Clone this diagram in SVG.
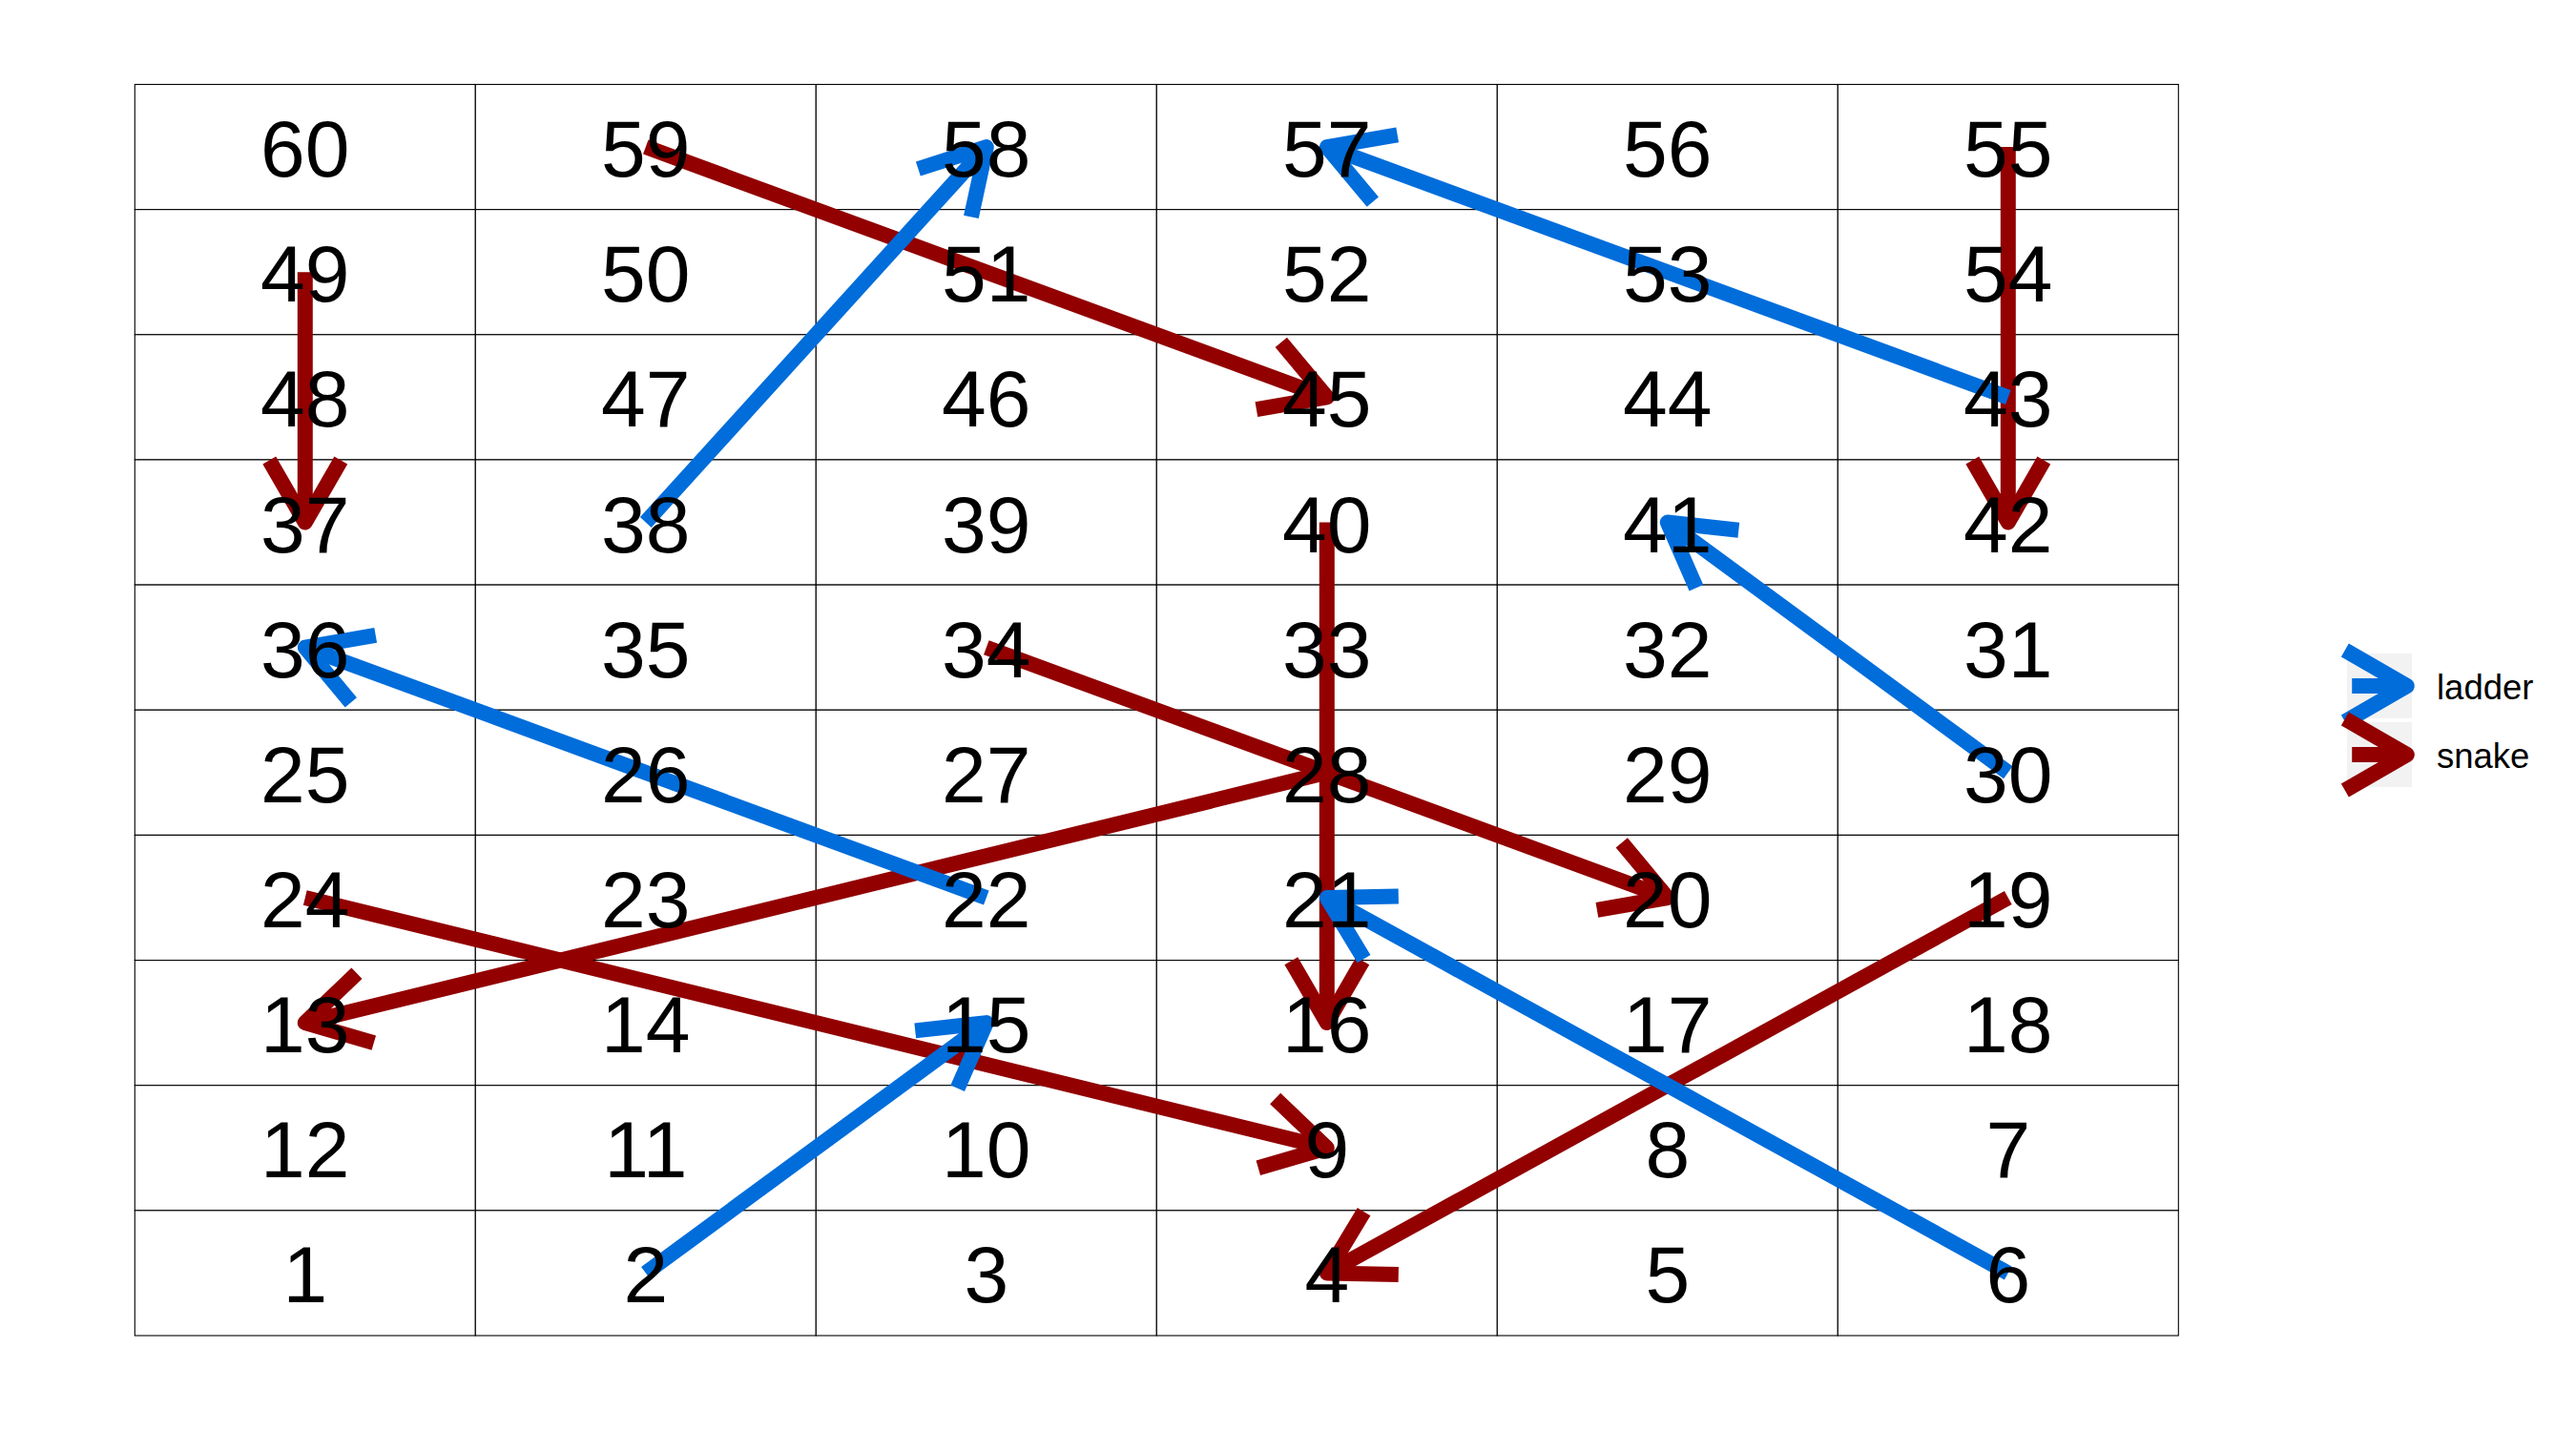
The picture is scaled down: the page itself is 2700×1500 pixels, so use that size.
<svg xmlns="http://www.w3.org/2000/svg" width="2700" height="1500" viewBox="0 0 2700 1500">
<style>
.cell{fill:#FFFFFF;stroke:#000000;stroke-width:1.1}
.num{font-family:"Liberation Sans",Arial,sans-serif;font-size:84px;fill:#000000;text-anchor:middle}
.lbl{font-family:"Liberation Sans",Arial,sans-serif;font-size:36.5px;fill:#000000}
.ladder{stroke:#006DDB;stroke-width:16;stroke-linecap:butt;fill:none;marker-end:url(#head-ladder)}
.snake{stroke:#920000;stroke-width:16;stroke-linecap:butt;fill:none;marker-end:url(#head-snake)}
.key{fill:#F2F2F2;stroke:#FFFFFF;stroke-width:4}
</style>
<defs>
<marker id="head-ladder" markerUnits="userSpaceOnUse" orient="auto" refX="0" refY="0" markerWidth="200" markerHeight="200" viewBox="-100 -100 200 200" style="overflow:visible">
<path d="M-64.95,-37.5 L0,0 L-64.95,37.5" fill="none" stroke="#006DDB" stroke-width="16" stroke-linejoin="round" stroke-linecap="butt"/>
</marker>
<marker id="head-snake" markerUnits="userSpaceOnUse" orient="auto" refX="0" refY="0" markerWidth="200" markerHeight="200" viewBox="-100 -100 200 200" style="overflow:visible">
<path d="M-64.95,-37.5 L0,0 L-64.95,37.5" fill="none" stroke="#920000" stroke-width="16" stroke-linejoin="round" stroke-linecap="butt"/>
</marker>
</defs>
<rect x="0" y="0" width="2700" height="1500" fill="#FFFFFF"/>
<g id="grid">
<rect class="cell" x="141.3" y="88.5" width="357" height="131.15"/><rect class="cell" x="498.3" y="88.5" width="357" height="131.15"/><rect class="cell" x="855.3" y="88.5" width="357" height="131.15"/><rect class="cell" x="1212.3" y="88.5" width="357" height="131.15"/><rect class="cell" x="1569.3" y="88.5" width="357" height="131.15"/><rect class="cell" x="1926.3" y="88.5" width="357" height="131.15"/>
<rect class="cell" x="141.3" y="219.65" width="357" height="131.15"/><rect class="cell" x="498.3" y="219.65" width="357" height="131.15"/><rect class="cell" x="855.3" y="219.65" width="357" height="131.15"/><rect class="cell" x="1212.3" y="219.65" width="357" height="131.15"/><rect class="cell" x="1569.3" y="219.65" width="357" height="131.15"/><rect class="cell" x="1926.3" y="219.65" width="357" height="131.15"/>
<rect class="cell" x="141.3" y="350.8" width="357" height="131.15"/><rect class="cell" x="498.3" y="350.8" width="357" height="131.15"/><rect class="cell" x="855.3" y="350.8" width="357" height="131.15"/><rect class="cell" x="1212.3" y="350.8" width="357" height="131.15"/><rect class="cell" x="1569.3" y="350.8" width="357" height="131.15"/><rect class="cell" x="1926.3" y="350.8" width="357" height="131.15"/>
<rect class="cell" x="141.3" y="481.95" width="357" height="131.15"/><rect class="cell" x="498.3" y="481.95" width="357" height="131.15"/><rect class="cell" x="855.3" y="481.95" width="357" height="131.15"/><rect class="cell" x="1212.3" y="481.95" width="357" height="131.15"/><rect class="cell" x="1569.3" y="481.95" width="357" height="131.15"/><rect class="cell" x="1926.3" y="481.95" width="357" height="131.15"/>
<rect class="cell" x="141.3" y="613.1" width="357" height="131.15"/><rect class="cell" x="498.3" y="613.1" width="357" height="131.15"/><rect class="cell" x="855.3" y="613.1" width="357" height="131.15"/><rect class="cell" x="1212.3" y="613.1" width="357" height="131.15"/><rect class="cell" x="1569.3" y="613.1" width="357" height="131.15"/><rect class="cell" x="1926.3" y="613.1" width="357" height="131.15"/>
<rect class="cell" x="141.3" y="744.25" width="357" height="131.15"/><rect class="cell" x="498.3" y="744.25" width="357" height="131.15"/><rect class="cell" x="855.3" y="744.25" width="357" height="131.15"/><rect class="cell" x="1212.3" y="744.25" width="357" height="131.15"/><rect class="cell" x="1569.3" y="744.25" width="357" height="131.15"/><rect class="cell" x="1926.3" y="744.25" width="357" height="131.15"/>
<rect class="cell" x="141.3" y="875.4" width="357" height="131.15"/><rect class="cell" x="498.3" y="875.4" width="357" height="131.15"/><rect class="cell" x="855.3" y="875.4" width="357" height="131.15"/><rect class="cell" x="1212.3" y="875.4" width="357" height="131.15"/><rect class="cell" x="1569.3" y="875.4" width="357" height="131.15"/><rect class="cell" x="1926.3" y="875.4" width="357" height="131.15"/>
<rect class="cell" x="141.3" y="1006.55" width="357" height="131.15"/><rect class="cell" x="498.3" y="1006.55" width="357" height="131.15"/><rect class="cell" x="855.3" y="1006.55" width="357" height="131.15"/><rect class="cell" x="1212.3" y="1006.55" width="357" height="131.15"/><rect class="cell" x="1569.3" y="1006.55" width="357" height="131.15"/><rect class="cell" x="1926.3" y="1006.55" width="357" height="131.15"/>
<rect class="cell" x="141.3" y="1137.7" width="357" height="131.15"/><rect class="cell" x="498.3" y="1137.7" width="357" height="131.15"/><rect class="cell" x="855.3" y="1137.7" width="357" height="131.15"/><rect class="cell" x="1212.3" y="1137.7" width="357" height="131.15"/><rect class="cell" x="1569.3" y="1137.7" width="357" height="131.15"/><rect class="cell" x="1926.3" y="1137.7" width="357" height="131.15"/>
<rect class="cell" x="141.3" y="1268.85" width="357" height="131.15"/><rect class="cell" x="498.3" y="1268.85" width="357" height="131.15"/><rect class="cell" x="855.3" y="1268.85" width="357" height="131.15"/><rect class="cell" x="1212.3" y="1268.85" width="357" height="131.15"/><rect class="cell" x="1569.3" y="1268.85" width="357" height="131.15"/><rect class="cell" x="1926.3" y="1268.85" width="357" height="131.15"/>
</g>
<g id="connectors">
<line id="snake-59-45" class="snake" x1="676.8" y1="154.1" x2="1390.8" y2="416.4"/>
<line id="snake-49-37" class="snake" x1="319.8" y1="285.2" x2="319.8" y2="547.5"/>
<line id="snake-55-42" class="snake" x1="2104.8" y1="154.1" x2="2104.8" y2="547.5"/>
<line id="snake-40-16" class="snake" x1="1390.8" y1="547.5" x2="1390.8" y2="1072.1"/>
<line id="snake-34-20" class="snake" x1="1033.8" y1="678.7" x2="1747.8" y2="941.0"/>
<line id="snake-28-13" class="snake" x1="1390.8" y1="809.8" x2="319.8" y2="1072.1"/>
<line id="snake-24-9" class="snake" x1="319.8" y1="941.0" x2="1390.8" y2="1203.3"/>
<line id="snake-19-4" class="snake" x1="2104.8" y1="941.0" x2="1390.8" y2="1334.4"/>
<line id="ladder-38-58" class="ladder" x1="676.8" y1="547.5" x2="1033.8" y2="154.1"/>
<line id="ladder-43-57" class="ladder" x1="2104.8" y1="416.4" x2="1390.8" y2="154.1"/>
<line id="ladder-30-41" class="ladder" x1="2104.8" y1="809.8" x2="1747.8" y2="547.5"/>
<line id="ladder-22-36" class="ladder" x1="1033.8" y1="941.0" x2="319.8" y2="678.7"/>
<line id="ladder-6-21" class="ladder" x1="2104.8" y1="1334.4" x2="1390.8" y2="941.0"/>
<line id="ladder-2-15" class="ladder" x1="676.8" y1="1334.4" x2="1033.8" y2="1072.1"/>
</g>
<g id="cell-60"><text class="num" x="319.8" y="185.1">60</text></g>
<g id="cell-59"><text class="num" x="676.8" y="185.1">59</text></g>
<g id="cell-58"><text class="num" x="1033.8" y="185.1">58</text></g>
<g id="cell-57"><text class="num" x="1390.8" y="185.1">57</text></g>
<g id="cell-56"><text class="num" x="1747.8" y="185.1">56</text></g>
<g id="cell-55"><text class="num" x="2104.8" y="185.1">55</text></g>
<g id="cell-49"><text class="num" x="319.8" y="316.2">49</text></g>
<g id="cell-50"><text class="num" x="676.8" y="316.2">50</text></g>
<g id="cell-51"><text class="num" x="1033.8" y="316.2">51</text></g>
<g id="cell-52"><text class="num" x="1390.8" y="316.2">52</text></g>
<g id="cell-53"><text class="num" x="1747.8" y="316.2">53</text></g>
<g id="cell-54"><text class="num" x="2104.8" y="316.2">54</text></g>
<g id="cell-48"><text class="num" x="319.8" y="447.4">48</text></g>
<g id="cell-47"><text class="num" x="676.8" y="447.4">47</text></g>
<g id="cell-46"><text class="num" x="1033.8" y="447.4">46</text></g>
<g id="cell-45"><text class="num" x="1390.8" y="447.4">45</text></g>
<g id="cell-44"><text class="num" x="1747.8" y="447.4">44</text></g>
<g id="cell-43"><text class="num" x="2104.8" y="447.4">43</text></g>
<g id="cell-37"><text class="num" x="319.8" y="578.5">37</text></g>
<g id="cell-38"><text class="num" x="676.8" y="578.5">38</text></g>
<g id="cell-39"><text class="num" x="1033.8" y="578.5">39</text></g>
<g id="cell-40"><text class="num" x="1390.8" y="578.5">40</text></g>
<g id="cell-41"><text class="num" x="1747.8" y="578.5">41</text></g>
<g id="cell-42"><text class="num" x="2104.8" y="578.5">42</text></g>
<g id="cell-36"><text class="num" x="319.8" y="709.7">36</text></g>
<g id="cell-35"><text class="num" x="676.8" y="709.7">35</text></g>
<g id="cell-34"><text class="num" x="1033.8" y="709.7">34</text></g>
<g id="cell-33"><text class="num" x="1390.8" y="709.7">33</text></g>
<g id="cell-32"><text class="num" x="1747.8" y="709.7">32</text></g>
<g id="cell-31"><text class="num" x="2104.8" y="709.7">31</text></g>
<g id="cell-25"><text class="num" x="319.8" y="840.8">25</text></g>
<g id="cell-26"><text class="num" x="676.8" y="840.8">26</text></g>
<g id="cell-27"><text class="num" x="1033.8" y="840.8">27</text></g>
<g id="cell-28"><text class="num" x="1390.8" y="840.8">28</text></g>
<g id="cell-29"><text class="num" x="1747.8" y="840.8">29</text></g>
<g id="cell-30"><text class="num" x="2104.8" y="840.8">30</text></g>
<g id="cell-24"><text class="num" x="319.8" y="972.0">24</text></g>
<g id="cell-23"><text class="num" x="676.8" y="972.0">23</text></g>
<g id="cell-22"><text class="num" x="1033.8" y="972.0">22</text></g>
<g id="cell-21"><text class="num" x="1390.8" y="972.0">21</text></g>
<g id="cell-20"><text class="num" x="1747.8" y="972.0">20</text></g>
<g id="cell-19"><text class="num" x="2104.8" y="972.0">19</text></g>
<g id="cell-13"><text class="num" x="319.8" y="1103.1">13</text></g>
<g id="cell-14"><text class="num" x="676.8" y="1103.1">14</text></g>
<g id="cell-15"><text class="num" x="1033.8" y="1103.1">15</text></g>
<g id="cell-16"><text class="num" x="1390.8" y="1103.1">16</text></g>
<g id="cell-17"><text class="num" x="1747.8" y="1103.1">17</text></g>
<g id="cell-18"><text class="num" x="2104.8" y="1103.1">18</text></g>
<g id="cell-12"><text class="num" x="319.8" y="1234.3">12</text></g>
<g id="cell-11"><text class="num" x="676.8" y="1234.3">11</text></g>
<g id="cell-10"><text class="num" x="1033.8" y="1234.3">10</text></g>
<g id="cell-9"><text class="num" x="1390.8" y="1234.3">9</text></g>
<g id="cell-8"><text class="num" x="1747.8" y="1234.3">8</text></g>
<g id="cell-7"><text class="num" x="2104.8" y="1234.3">7</text></g>
<g id="cell-1"><text class="num" x="319.8" y="1365.4">1</text></g>
<g id="cell-2"><text class="num" x="676.8" y="1365.4">2</text></g>
<g id="cell-3"><text class="num" x="1033.8" y="1365.4">3</text></g>
<g id="cell-4"><text class="num" x="1390.8" y="1365.4">4</text></g>
<g id="cell-5"><text class="num" x="1747.8" y="1365.4">5</text></g>
<g id="cell-6"><text class="num" x="2104.8" y="1365.4">6</text></g>
<g id="legend">
<rect class="key" x="2458" y="683" width="72" height="72"/>
<rect class="key" x="2458" y="755" width="72" height="72"/>
<line class="ladder" x1="2465.2" y1="719" x2="2522.8" y2="719"/>
<line class="snake" x1="2465.2" y1="791" x2="2522.8" y2="791"/>
<text class="lbl" x="2554" y="733">ladder</text>
<text class="lbl" x="2554" y="805">snake</text>
</g>
</svg>
